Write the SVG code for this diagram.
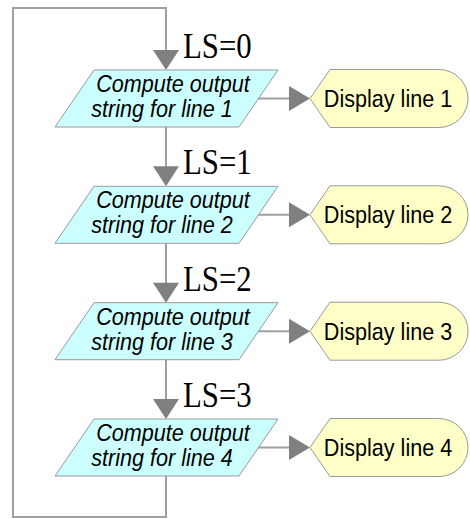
<svg xmlns="http://www.w3.org/2000/svg" width="470" height="519" viewBox="0 0 470 519">
  <style>
    .wire { fill: none; stroke: #a0a0a0; stroke-width: 2; }
    .head { fill: #808080; stroke: none; }
    .proc { fill: #ccffff; stroke: #999999; stroke-width: 1; }
    .disp { fill: #ffffc8; stroke: #999999; stroke-width: 1; }
    .ptxt { font-family: "Liberation Sans", Arial, sans-serif; font-style: italic; font-size: 24px; fill: #000; text-anchor: middle; }
    .dtxt { font-family: "Liberation Sans", Arial, sans-serif; font-size: 24px; fill: #000; text-anchor: middle; }
    .ls { font-family: "Liberation Serif", "Times New Roman", serif; font-size: 35px; fill: #000; }
  </style>
  <defs>
    <polygon id="downHead" class="head" points="-13,-20 13,-20 0,0"/>
    <polygon id="rightHead" class="head" points="-21,-12.5 -21,12.5 0,0"/>
  </defs>

  <!-- connectors -->
  <g id="connectors">
    <!-- loop back from the last step to the first -->
    <polyline class="wire" points="166,476 166,517 13,517 13,8 166,8 166,52"/>
    <line class="wire" x1="166" y1="127" x2="166" y2="168"/>
    <line class="wire" x1="166" y1="243.3" x2="166" y2="284.3"/>
    <line class="wire" x1="166" y1="359.7" x2="166" y2="400.7"/>
    <use href="#downHead" x="166" y="70"/>
    <use href="#downHead" x="166" y="186.3"/>
    <use href="#downHead" x="166" y="302.7"/>
    <use href="#downHead" x="166" y="419"/>
    <!-- step to display -->
    <line class="wire" x1="258" y1="98.5" x2="291" y2="98.5"/>
    <line class="wire" x1="258" y1="214.8" x2="291" y2="214.8"/>
    <line class="wire" x1="258" y1="331.2" x2="291" y2="331.2"/>
    <line class="wire" x1="258" y1="447.5" x2="291" y2="447.5"/>
    <use href="#rightHead" x="310" y="98.5"/>
    <use href="#rightHead" x="310" y="214.8"/>
    <use href="#rightHead" x="310" y="331.2"/>
    <use href="#rightHead" x="310" y="447.5"/>
    <text class="ls" transform="matrix(0.88,0,0,1,183,58)">LS=0</text>
    <text class="ls" transform="matrix(0.88,0,0,1,183,174.3)">LS=1</text>
    <text class="ls" transform="matrix(0.88,0,0,1,183,290.7)">LS=2</text>
    <text class="ls" transform="matrix(0.88,0,0,1,183,407)">LS=3</text>
  </g>

  <!-- compute steps -->
  <g id="compute1" transform="translate(0,0)">
    <polygon class="proc" points="94,70 278,70 239,127 55,127"/>
    <text class="ptxt" transform="matrix(0.9,0,0,1,173,92)">Compute output</text>
    <text class="ptxt" transform="matrix(0.9,0,0,1,162,117)">string for line 1</text>
  </g>
  <g id="compute2" transform="translate(0,116.3)">
    <polygon class="proc" points="94,70 278,70 239,127 55,127"/>
    <text class="ptxt" transform="matrix(0.9,0,0,1,173,92)">Compute output</text>
    <text class="ptxt" transform="matrix(0.9,0,0,1,162,117)">string for line 2</text>
  </g>
  <g id="compute3" transform="translate(0,232.7)">
    <polygon class="proc" points="94,70 278,70 239,127 55,127"/>
    <text class="ptxt" transform="matrix(0.9,0,0,1,173,92)">Compute output</text>
    <text class="ptxt" transform="matrix(0.9,0,0,1,162,117)">string for line 3</text>
  </g>
  <g id="compute4" transform="translate(0,349)">
    <polygon class="proc" points="94,70 278,70 239,127 55,127"/>
    <text class="ptxt" transform="matrix(0.9,0,0,1,173,92)">Compute output</text>
    <text class="ptxt" transform="matrix(0.9,0,0,1,162,117)">string for line 4</text>
  </g>

  <!-- display outputs -->
  <g id="display1" transform="translate(0,0)">
    <path class="disp" d="M310,98.5 L330,69.5 H439 A29,29 0 0 1 439,127.5 H330 Z"/>
    <text class="dtxt" transform="matrix(0.9,0,0,1,388,107)">Display line 1</text>
  </g>
  <g id="display2" transform="translate(0,116.3)">
    <path class="disp" d="M310,98.5 L330,69.5 H439 A29,29 0 0 1 439,127.5 H330 Z"/>
    <text class="dtxt" transform="matrix(0.9,0,0,1,388,107)">Display line 2</text>
  </g>
  <g id="display3" transform="translate(0,232.7)">
    <path class="disp" d="M310,98.5 L330,69.5 H439 A29,29 0 0 1 439,127.5 H330 Z"/>
    <text class="dtxt" transform="matrix(0.9,0,0,1,388,107)">Display line 3</text>
  </g>
  <g id="display4" transform="translate(0,349)">
    <path class="disp" d="M310,98.5 L330,69.5 H439 A29,29 0 0 1 439,127.5 H330 Z"/>
    <text class="dtxt" transform="matrix(0.9,0,0,1,388,107)">Display line 4</text>
  </g>
</svg>
